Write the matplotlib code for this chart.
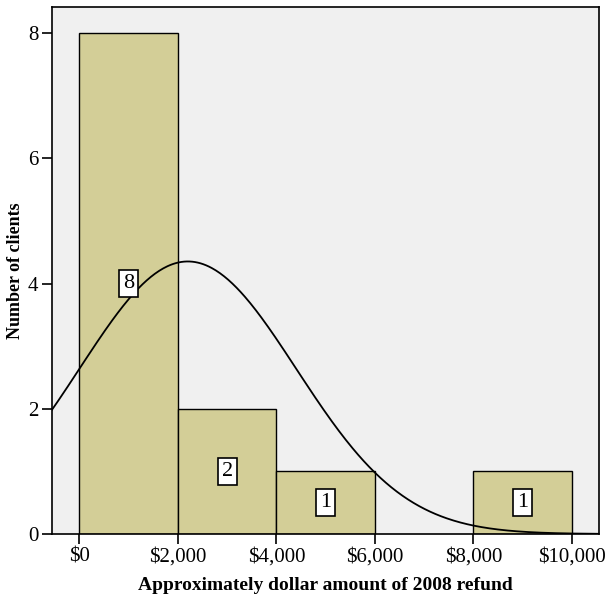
import numpy as np
import matplotlib.pyplot as plt
from matplotlib.ticker import FuncFormatter

# histogram of refunds, bins of $2,000
bin_edges = [0, 2000, 4000, 6000, 8000, 10000]
counts = [8, 2, 1, 0, 1]
n_clients = 12
mean_refund = 2200
sd_refund = 2200

plt.rcParams['font.family'] = ['Liberation Serif', 'DejaVu Serif']

fig = plt.figure(figsize=(6.06, 5.96), dpi=100)
ax = fig.add_axes([0.0866, 0.104, 0.9018, 0.8837])
ax.set_facecolor('#f0f0f0')

edges = np.array(bin_edges)
widths = np.diff(edges)
lefts = edges[:-1]
for left, w, c in zip(lefts, widths, counts):
    if c == 0:
        continue
    ax.bar(left, c, width=w, align='edge', color='#d3ce97', edgecolor='black', linewidth=1.0, zorder=2)
    ax.text(left + w / 2, c / 2, str(c), ha='center', va='center', fontsize=16, zorder=4,
            bbox=dict(boxstyle='square,pad=0.18', facecolor='white', edgecolor='black', linewidth=1.2))

# normal curve scaled to counts
xs = np.linspace(-600, 10600, 400)
bw = widths[0]
ys = n_clients * bw / (sd_refund * np.sqrt(2 * np.pi)) * np.exp(-(xs - mean_refund) ** 2 / (2 * sd_refund ** 2))
ax.plot(xs, ys, color='black', linewidth=1.3, zorder=3)

ax.set_xlim(-548, 10548)
ax.set_ylim(0, 8.41)
ax.set_xticks(bin_edges)
ax.xaxis.set_major_formatter(FuncFormatter(lambda v, p: '${:,.0f}'.format(v)))
ax.set_yticks([0, 2, 4, 6, 8])
ax.tick_params(axis='both', direction='out', length=7, width=1.2, labelsize=15, colors='black', pad=3)
for s in ax.spines.values():
    s.set_linewidth(1.2)

ax.set_xlabel('Approximately dollar amount of 2008 refund', fontsize=14, fontweight='bold', labelpad=7)
ax.set_ylabel('Number of clients', fontsize=13, fontweight='bold', labelpad=3)

fig.savefig('out.png', dpi=100)
